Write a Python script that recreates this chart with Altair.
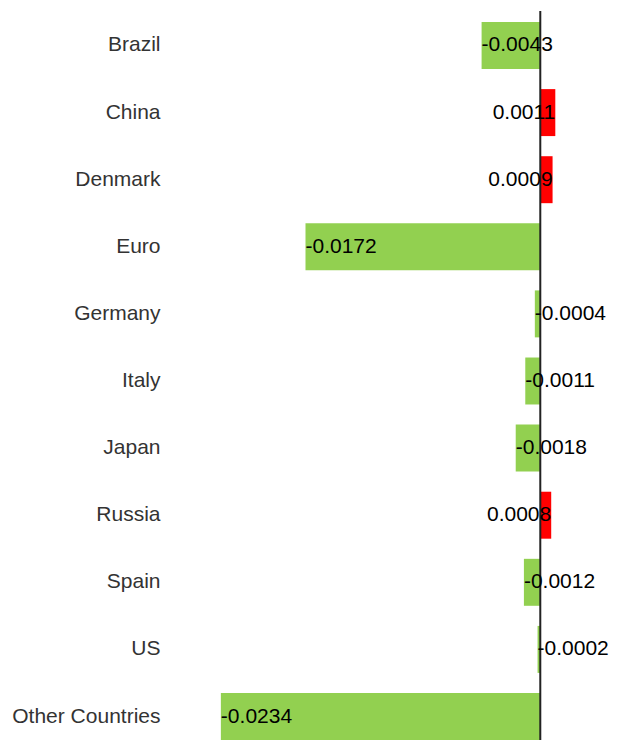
import altair as alt
import pandas as pd

countries = ["Brazil", "China", "Denmark", "Euro", "Germany", "Italy", "Japan",
             "Russia", "Spain", "US", "Other Countries"]
values = [-0.0043, 0.0011, 0.0009, -0.0172, -0.0004, -0.0011, -0.0018,
          0.0008, -0.0012, -0.0002, -0.0234]

df = pd.DataFrame({"country": countries, "value": values})
df["zero"] = 0.0
df["label"] = [f"{v:.4f}" for v in values]
df["sign"] = ["pos" if v > 0 else "neg" for v in values]

FONT = "Liberation Sans"

y = alt.Y("country:N", sort=countries, title=None,
          scale=alt.Scale(paddingInner=0.3, paddingOuter=0.082, align=1),
          axis=alt.Axis(ticks=False, domain=False, labelFontSize=21,
                        labelFont=FONT, labelColor="#333333", labelPadding=12))
xscale = alt.Scale(domain=[-0.02698, 0.0054], nice=False, zero=False)
x = alt.X("value:Q", axis=None, scale=xscale)

base = alt.Chart(df).encode(y=y)

bars = base.mark_bar().encode(
    x=x, x2="zero:Q",
    color=alt.Color("sign:N", scale=alt.Scale(domain=["neg", "pos"], range=["#92d050", "#ff0000"]), legend=None),
)

text_neg = base.transform_filter(alt.datum.sign == "neg").mark_text(
    align="left", baseline="middle", font=FONT, fontSize=21, color="black"
).encode(x=x, text="label:N")

text_pos = base.transform_filter(alt.datum.sign == "pos").mark_text(
    align="right", baseline="middle", font=FONT, fontSize=21, color="black"
).encode(x=x, text="label:N")

rule_df = pd.DataFrame({"zero": [0.0]})
rule = alt.Chart(rule_df).mark_rule(color="#222222", strokeWidth=2).encode(
    x=alt.X("zero:Q", axis=None, scale=xscale)
)

chart = alt.layer(bars, rule, text_neg, text_pos).properties(
    width=442, height=729,
    padding={"top": 2, "bottom": 0, "left": 3, "right": 0},
).configure_view(stroke=None)

chart.save("out.html", embed_options={"renderer": "svg", "actions": False})
